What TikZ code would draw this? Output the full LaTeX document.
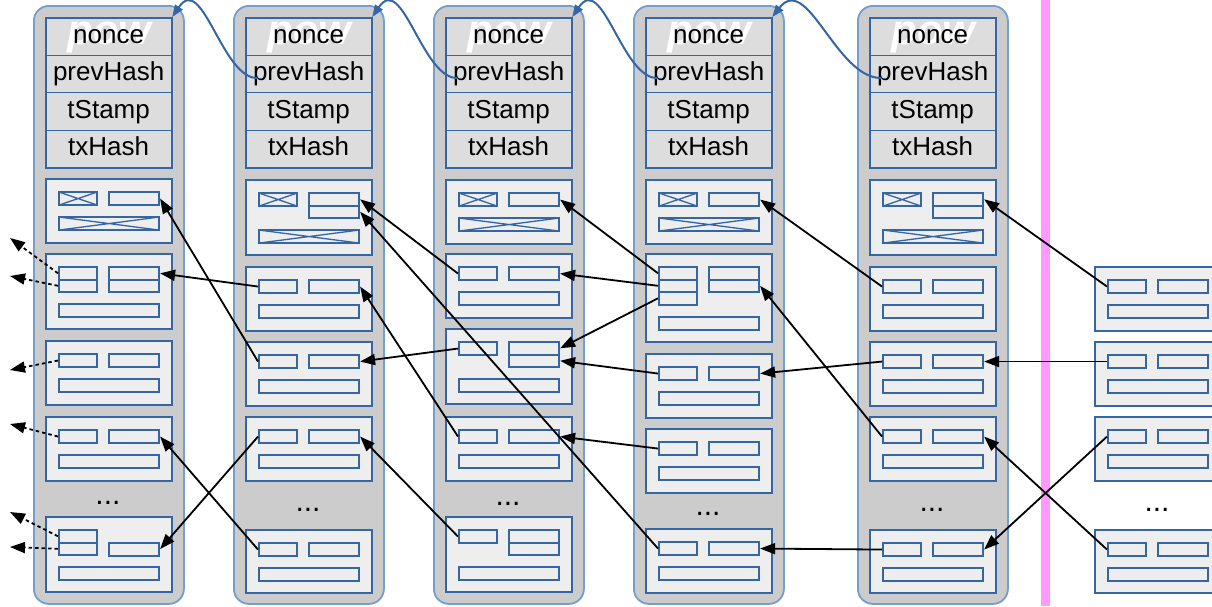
\documentclass[tikz,border=0pt]{standalone}
\usepackage{fontspec}
\setmainfont{Liberation Sans}
\usetikzlibrary{arrows.meta,calc}

\definecolor{colfill}{HTML}{CCCCCC}
\definecolor{colline}{HTML}{729FCF}
\definecolor{hdrfill}{HTML}{DDDDDD}
\definecolor{boxline}{HTML}{3465A4}
\definecolor{boxfill}{HTML}{EEEEEE}
\definecolor{forkpink}{HTML}{FF99FF}

\tikzset{
  colbg/.style={draw=colline, fill=colfill, line width=1.8pt, rounded corners=15pt,
    anchor=north west, minimum width=150pt, minimum height=598pt, inner sep=0pt},
  hdrrow/.style={draw=boxline, fill=hdrfill, line width=1.3pt, anchor=north west,
    minimum width=126pt, minimum height=37.5pt, inner sep=0pt,
    text height=19pt, text depth=5.5pt,
    font=\fontsize{26}{30}\selectfont},
  hdrframe/.style={draw=boxline, line width=2.4pt, anchor=north west,
    minimum width=126pt, minimum height=150pt, inner sep=0pt},
  powmark/.style={text=white, anchor=base, inner sep=0pt,
    font=\fontsize{42}{46}\selectfont\bfseries\itshape},
  txbox/.style={draw=boxline, fill=boxfill, line width=2.2pt, anchor=north west,
    minimum width=126pt, inner sep=0pt},
  cell/.style={draw=boxline, fill=boxfill, line width=2.1pt, anchor=north west,
    minimum height=13pt, inner sep=0pt},
  halfcell/.style={cell, minimum height=12.5pt},
  crossed/.style={path picture={\draw[boxline, line width=1.3pt]
    (path picture bounding box.north west) -- (path picture bounding box.south east)
    (path picture bounding box.south west) -- (path picture bounding box.north east);}},
  ellip/.style={inner sep=0pt, font=\fontsize{30}{30}\selectfont},
  spend/.style={draw=black, line width=1.8pt, -{Triangle[length=15pt,width=11pt]}},
  outspend/.style={spend, dash pattern=on 3.5pt off 3pt},
  prevlink/.style={draw=boxline, line width=2pt, -{Triangle[length=12pt,width=9pt]}},
  forkline/.style={draw=forkpink, line width=9pt},
}

% transaction frame: name, column x, top y, height
\newcommand\txb[4]{\node[txbox, minimum height=#4pt] (#1) at (#2+12,#3) {};}
% field cells: name, x, y, width
\newcommand\cel[4]{\node[cell, minimum width=#4pt] (#1) at (#2,#3) {};}
\newcommand\hcel[4]{\node[halfcell, minimum width=#4pt] (#1) at (#2,#3) {};}
\newcommand\xcel[4]{\node[cell, crossed, minimum width=#4pt] (#1) at (#2,#3) {};}
% ordinary transaction: one input, one output
\newcommand\stdtx[4]{%
  \txb{#1}{#2}{#3}{#4}%
  \cel{#1-i}{#2+25}{#3+13}{38}%
  \cel{#1-o}{#2+75}{#3+13}{50}%
  \cel{#1-l}{#2+25}{#3+38}{100}}
% block header: index, column x
\newcommand\blockhead[2]{%
  \node[hdrrow, path picture={\node[powmark] at ($(path picture bounding box.north)+(1,27)$) {pow};}]
    (c#1n) at (#2+12,17) {nonce};
  \node[hdrrow] (c#1p) at (#2+12,54.5) {prevHash};
  \node[hdrrow] (c#1t) at (#2+12,92) {tStamp};
  \node[hdrrow] (c#1x) at (#2+12,129.5) {txHash};
  \node[hdrframe] (c#1h) at (#2+12,17) {};}

\begin{document}
\begin{tikzpicture}[x=1pt, y=-1pt]
\useasboundingbox (0,0) rectangle (1212,606);
\clip (0,0) rectangle (1212,606);

% block columns
\node[colbg] (col1) at (33,5) {};
\node[colbg] (col2) at (233,5) {};
\node[colbg] (col3) at (433,5) {};
\node[colbg] (col4) at (633,5) {};
\node[colbg] (col5) at (857,5) {};

\blockhead{1}{33}
\blockhead{2}{233}
\blockhead{3}{433}
\blockhead{4}{633}
\blockhead{5}{857}

% ---- block 1
\def\X{33}
\txb{c1b1}{\X}{178}{64}
\xcel{c1b1-i}{\X+25}{191}{38}
\cel{c1b1-o}{\X+75}{191}{50}
\xcel{c1b1-l}{\X+25}{216}{100}
\txb{c1b2}{\X}{253}{75}
\hcel{c1b2-i1}{\X+25}{266}{38}
\hcel{c1b2-i2}{\X+25}{278.5}{38}
\hcel{c1b2-o1}{\X+75}{266}{50}
\hcel{c1b2-o2}{\X+75}{278.5}{50}
\cel{c1b2-l}{\X+25}{303}{100}
\stdtx{c1b3}{\X}{340}{64}
\stdtx{c1b4}{\X}{416}{64}
\node[ellip] (c1dots) at (\X+75,503) {...};
\txb{c1b5}{\X}{516}{75}
\hcel{c1b5-i1}{\X+25}{529}{38}
\hcel{c1b5-i2}{\X+25}{541.5}{38}
\cel{c1b5-o}{\X+75}{541.5}{50}
\cel{c1b5-l}{\X+25}{566}{100}

% ---- block 2
\def\X{233}
\txb{c2b1}{\X}{179}{75}
\xcel{c2b1-i}{\X+25}{192}{38}
\hcel{c2b1-o1}{\X+75}{192}{50}
\hcel{c2b1-o2}{\X+75}{204.5}{50}
\xcel{c2b1-l}{\X+25}{229}{100}
\stdtx{c2b2}{\X}{266}{64}
\stdtx{c2b3}{\X}{341}{64}
\stdtx{c2b4}{\X}{416}{64}
\node[ellip] (c2dots) at (\X+75,510) {...};
\stdtx{c2b5}{\X}{529}{63}

% ---- block 3
\def\X{433}
\txb{c3b1}{\X}{179}{64}
\xcel{c3b1-i}{\X+25}{192}{38}
\cel{c3b1-o}{\X+75}{192}{50}
\xcel{c3b1-l}{\X+25}{217}{100}
\stdtx{c3b2}{\X}{253}{64}
\txb{c3b3}{\X}{328}{75}
\cel{c3b3-i}{\X+25}{341}{38}
\hcel{c3b3-o1}{\X+75}{341}{50}
\hcel{c3b3-o2}{\X+75}{353.5}{50}
\cel{c3b3-l}{\X+25}{378}{100}
\stdtx{c3b4}{\X}{416}{64}
\node[ellip] (c3dots) at (\X+75,504) {...};
\txb{c3b5}{\X}{516}{75}
\cel{c3b5-i}{\X+25}{529}{38}
\hcel{c3b5-o1}{\X+75}{529}{50}
\hcel{c3b5-o2}{\X+75}{541.5}{50}
\cel{c3b5-l}{\X+25}{566}{100}

% ---- block 4
\def\X{633}
\txb{c4b1}{\X}{179}{64}
\xcel{c4b1-i}{\X+25}{192}{38}
\cel{c4b1-o}{\X+75}{192}{50}
\xcel{c4b1-l}{\X+25}{217}{100}
\txb{c4b2}{\X}{253}{88}
\hcel{c4b2-i1}{\X+25}{266}{38}
\hcel{c4b2-i2}{\X+25}{278.5}{38}
\hcel{c4b2-i3}{\X+25}{291}{38}
\hcel{c4b2-o1}{\X+75}{266}{50}
\hcel{c4b2-o2}{\X+75}{278.5}{50}
\cel{c4b2-l}{\X+25}{316}{100}
\stdtx{c4b3}{\X}{353}{64}
\stdtx{c4b4}{\X}{428}{64}
\node[ellip] (c4dots) at (\X+75,514) {...};
\stdtx{c4b5}{\X}{528}{64}

% ---- block 5
\def\X{857}
\txb{c5b1}{\X}{179}{75}
\xcel{c5b1-i}{\X+25}{192}{38}
\hcel{c5b1-o1}{\X+75}{192}{50}
\hcel{c5b1-o2}{\X+75}{204.5}{50}
\xcel{c5b1-l}{\X+25}{229}{100}
\stdtx{c5b2}{\X}{266}{64}
\stdtx{c5b3}{\X}{341}{64}
\stdtx{c5b4}{\X}{416}{64}
\node[ellip] (c5dots) at (\X+75,510) {...};
\stdtx{c5b5}{\X}{529}{63}

% fork marker
\coordinate (forktop) at (1045,0);
\coordinate (forkbot) at (1045,606);
\draw[forkline] (forktop) -- (forkbot);

% ---- pending transactions
\def\X{1082}
\stdtx{r1}{\X}{266}{64}
\stdtx{r2}{\X}{341}{64}
\stdtx{r3}{\X}{416}{64}
\node[ellip] (rdots) at (\X+75,510) {...};
\stdtx{r4}{\X}{529}{63}

% ---- previous-block links
\coordinate (c2ptr) at (257,78);
\coordinate (c3ptr) at (457,78);
\coordinate (c4ptr) at (657,78);
\coordinate (c5ptr) at (881,78);
\draw[prevlink] (c2ptr) .. controls +(-35,0) and +(30,-45) .. (c1n.north east);
\draw[prevlink] (c3ptr) .. controls +(-35,0) and +(30,-45) .. (c2n.north east);
\draw[prevlink] (c4ptr) .. controls +(-35,0) and +(30,-45) .. (c3n.north east);
\draw[prevlink] (c5ptr) .. controls +(-45,0) and +(35,-45) .. (c4n.north east);

% ---- spent outputs
\draw[spend] (c2b2-i.west) -- (c1b2-o1.east);
\draw[spend] (c2b3-i.west) -- (c1b1-o.east);
\draw[spend] (c2b4-i.west) -- (c1b5-o.east);
\draw[spend] (c2b5-i.west) -- (c1b4-o.east);

\draw[spend] (c3b2-i.west) -- (c2b1-o1.east);
\draw[spend] (c3b3-i.west) -- (c2b3-o.east);
\draw[spend] (c3b4-i.west) -- (c2b2-o.east);
\draw[spend] (c3b5-i.west) -- (c2b4-o.east);

\draw[spend] (c4b2-i1.west) -- (c3b1-o.east);
\draw[spend] (c4b2-i2.west) -- (c3b2-o.east);
\draw[spend] (c4b2-i3.west) -- (c3b3-o1.east);
\draw[spend] (c4b3-i.west) -- (c3b3-o2.east);
\draw[spend] (c4b4-i.west) -- (c3b4-o.east);
\draw[spend] (c4b5-i.west) -- (c2b1-o2.east);

\draw[spend] (c5b2-i.west) -- (c4b1-o.east);
\draw[spend] (c5b3-i.west) -- (c4b3-o.east);
\draw[spend] (c5b4-i.west) -- (c4b2-o2.east);
\draw[spend] (c5b5-i.west) -- (c4b5-o.east);

\draw[spend] (r1-i.west) -- (c5b1-o1.east);
\draw[spend] (r2-i.west) -- (c5b3-o.east);
\draw[spend] (r3-i.west) -- (c5b5-o.east);
\draw[spend] (r4-i.west) -- (c5b4-o.east);

% ---- outputs spent in earlier blocks
\coordinate (d1) at (10,238);
\coordinate (d2) at (10,276);
\coordinate (d3) at (10,370);
\coordinate (d4) at (10,424);
\coordinate (d5) at (10,512);
\coordinate (d6) at (10,547);
\draw[outspend] (c1b2-i1.west) -- (d1);
\draw[outspend] (c1b2-i2.west) -- (d2);
\draw[outspend] (c1b3-i.west) -- (d3);
\draw[outspend] (c1b4-i.west) -- (d4);
\draw[outspend] (c1b5-i1.west) -- (d5);
\draw[outspend] (c1b5-i2.west) -- (d6);
\end{tikzpicture}
\end{document}
